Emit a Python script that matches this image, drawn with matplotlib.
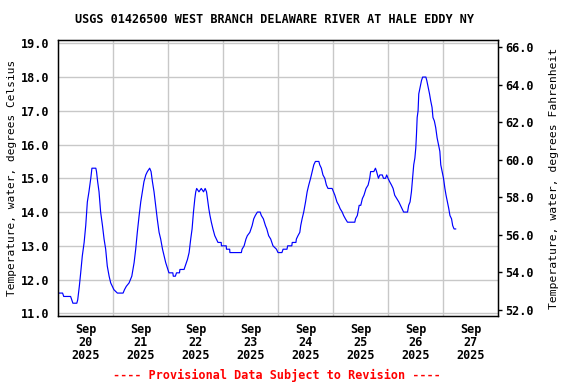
import matplotlib

matplotlib.use("Agg")
import matplotlib.pyplot as plt
import pandas as pd

# hours since 2025-09-20 00:00 and water temperature (deg C)
hours = [
    0, 2, 2.5, 5.5, 6.5, 8.2, 8.6, 9.3, 9.9, 10.6, 11.4, 12.1, 12.8, 13.5, 14.3,
    14.8, 16.5, 16.8, 17.3, 17.9, 18.6, 19.4, 20.1, 20.8, 21.5, 22.3, 23.0, 23.7,
    24.4, 25.9, 28.4, 29.0, 29.8, 31.0, 32.2, 33.2, 33.9, 34.6, 35.4, 36.1, 36.8,
    37.5, 38.3, 39.0, 40.0, 40.6, 41.2, 41.9, 42.6, 43.3, 44.1, 44.8, 45.6, 46.3,
    47.0, 47.9, 48.4, 50.1, 50.3, 51.2, 51.7, 53.0, 53.2, 55.0, 55.5, 56.5, 57.2,
    57.9, 58.5, 59.1, 59.7, 60.1, 60.5, 61.5, 62.5, 63.5, 64.2, 64.8, 65.2, 65.8,
    66.3, 66.9, 67.6, 68.4, 69.1, 69.8, 71.2, 71.3, 73.4, 73.5, 74.9, 75.0, 80.0,
    80.3, 81.2, 82.0, 82.6, 83.7, 84.7, 85.4, 86.1, 87.0, 88.2, 88.7, 89.6, 90.5,
    91.1, 91.9, 92.8, 93.8, 95.3, 96.0, 97.7, 98.2, 99.9, 100.2, 102.0, 102.2,
    103.8, 104.0, 104.7, 105.5, 105.9, 106.5, 107.2, 108.0, 108.7, 109.4, 110.2,
    110.9, 111.6, 112.3, 113.8, 114.2, 114.9, 115.6, 116.4, 117.1, 117.8, 119.6,
    120.2, 120.8, 121.7, 122.5, 123.1, 124.0, 124.6, 125.4, 126.3, 129.5, 129.8,
    130.6, 131.4, 132.1, 132.8, 133.5, 134.4, 135.3, 136.0, 136.4, 137.8, 138.5,
    139.0, 139.8, 140.4, 141.5, 142.0, 142.9, 143.4, 144.0, 144.7, 145.5, 146.2,
    146.9, 147.8, 148.7, 149.4, 150.1, 150.8, 152.5, 153.0, 153.6, 154.2, 154.7,
    155.2, 155.7, 156.1, 156.4, 156.7, 157.1, 157.4, 158.0, 158.6, 159.1, 160.5,
    160.9, 161.5, 162.1, 162.6, 163.2, 163.6, 164.2, 164.8, 165.4, 166.0, 166.6,
    167.0, 167.6, 168.2, 168.8, 169.3, 169.9, 170.5, 171.0, 171.7, 172.2, 172.8,
    173.5,
]
temps = [
    11.6, 11.6, 11.5, 11.5, 11.3, 11.3, 11.4, 11.8, 12.2, 12.7, 13.1, 13.6, 14.3,
    14.6, 15.0, 15.3, 15.3, 15.2, 14.9, 14.6, 14.0, 13.6, 13.2, 12.9, 12.4, 12.1,
    11.9, 11.8, 11.7, 11.6, 11.6, 11.7, 11.8, 11.9, 12.1, 12.5, 12.9, 13.4, 13.9,
    14.3, 14.6, 14.9, 15.1, 15.2, 15.3, 15.2, 14.9, 14.6, 14.2, 13.8, 13.4, 13.2,
    12.9, 12.7, 12.5, 12.3, 12.2, 12.2, 12.1, 12.1, 12.2, 12.2, 12.3, 12.3, 12.4,
    12.6, 12.8, 13.2, 13.5, 14.0, 14.4, 14.6, 14.7, 14.6, 14.7, 14.6, 14.7, 14.6,
    14.4, 14.1, 13.9, 13.7, 13.5, 13.3, 13.2, 13.1, 13.1, 13.0, 13.0, 12.9, 12.9,
    12.8, 12.8, 12.9, 13.0, 13.2, 13.3, 13.4, 13.6, 13.8, 13.9, 14.0, 14.0, 13.9,
    13.8, 13.6, 13.5, 13.3, 13.2, 13.0, 12.9, 12.8, 12.8, 12.9, 12.9, 13.0, 13.0,
    13.1, 13.1, 13.2, 13.3, 13.4, 13.6, 13.8, 14.0, 14.3, 14.6, 14.8, 15.0, 15.2,
    15.4, 15.5, 15.5, 15.4, 15.3, 15.1, 15.0, 14.8, 14.7, 14.7, 14.6, 14.5, 14.3,
    14.2, 14.1, 14.0, 13.9, 13.8, 13.7, 13.7, 13.8, 13.9, 14.2, 14.2, 14.4, 14.5,
    14.7, 14.8, 15.0, 15.2, 15.2, 15.3, 15.2, 15.0, 15.1, 15.1, 15.0, 15.0, 15.1,
    15.0, 14.9, 14.8, 14.7, 14.5, 14.4, 14.3, 14.2, 14.1, 14.0, 14.0, 14.2, 14.3,
    14.6, 15.0, 15.4, 15.6, 15.9, 16.3, 16.8, 17.0, 17.5, 17.7, 17.9, 18.0, 18.0,
    17.9, 17.7, 17.5, 17.3, 17.1, 16.8, 16.7, 16.5, 16.2, 16.0, 15.8, 15.4, 15.2,
    15.0, 14.7, 14.5, 14.3, 14.1, 13.9, 13.8, 13.6, 13.5, 13.5,
]

start = pd.Timestamp("2025-09-20 00:00")
end = pd.Timestamp("2025-09-28 00:00")
times = [start + pd.Timedelta(hours=h) for h in hours]

title = "USGS 01426500 WEST BRANCH DELAWARE RIVER AT HALE EDDY NY"
ylabel_c = "Temperature, water, degrees Celsius"
ylabel_f = "Temperature, water, degrees Fahrenheit"
c_ticks = [11, 12, 13, 14, 15, 16, 17, 18, 19]
f_ticks = [52, 54, 56, 58, 60, 62, 64, 66]
ylim_c = (10.92, 19.1)

plt.rcParams.update({
    "font.family": "DejaVu Sans Mono",
    "font.weight": "bold",
    "font.size": 8.5,
})

fig = plt.figure(figsize=(5.76, 3.84), dpi=100)
ax = fig.add_axes([0.1007, 0.177, 0.764, 0.719])

ax.plot(times, temps, color="#0000ff", linewidth=0.85)

ax.set_xlim(start, end)
ax.set_ylim(*ylim_c)
ax.set_yticks(c_ticks)
ax.set_yticklabels([f"{v:.1f}" for v in c_ticks])

# grid lines at midnight, labels at noon
midnights = pd.date_range("2025-09-21", "2025-09-27", freq="D")
noons = pd.date_range("2025-09-20 12:00", "2025-09-27 12:00", freq="D")
for m in midnights:
    ax.axvline(m, color="#c8c8c8", linewidth=1.0, zorder=0)
ax.set_xticks(noons)
ax.set_xticklabels([d.strftime("%b\n%d\n%Y") for d in noons], linespacing=1.0)
ax.yaxis.grid(True, color="#c8c8c8", linewidth=1.0)
ax.set_axisbelow(True)
ax.tick_params(axis="x", length=0, pad=5)
ax.tick_params(axis="y", length=0, pad=6)

for s in ax.spines.values():
    s.set_linewidth(1.0)

ax.set_ylabel(ylabel_c, fontsize=8.0, labelpad=3)

# Fahrenheit axis on the right
ax2 = ax.twinx()
ax2.set_ylim(ylim_c[0] * 1.8 + 32, ylim_c[1] * 1.8 + 32)
ax2.set_yticks(f_ticks)
ax2.set_yticklabels([f"{v:.1f}" for v in f_ticks])
ax2.tick_params(axis="y", direction="out", length=3, width=1, pad=2)
ax2.set_ylabel(ylabel_f, fontsize=8.2, labelpad=11)

fig.text(0.476, 0.948, title, ha="center", va="center", fontsize=8.5)
fig.text(0.481, 0.023, "---- Provisional Data Subject to Revision ----",
         ha="center", va="center", color="red", fontsize=8.5)

fig.savefig("out.png", dpi=100)
